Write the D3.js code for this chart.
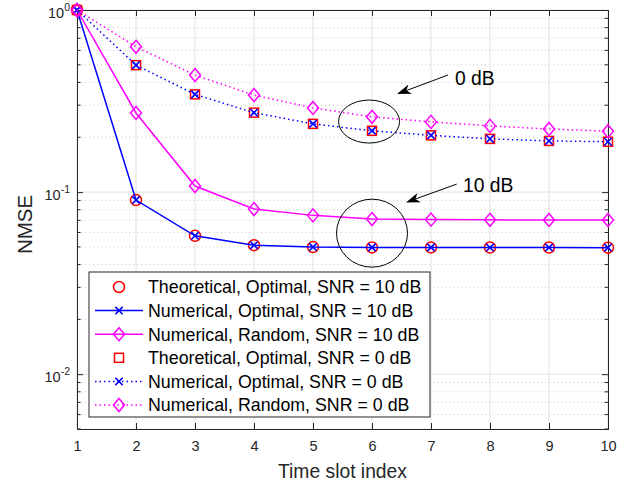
<!DOCTYPE html>
<html>
<head>
<meta charset="utf-8">
<script src="https://cdn.jsdelivr.net/npm/d3@7"></script>
<style>
body{margin:0;background:#fff;}
svg{display:block;}
text{font-family:"Liberation Sans",Arial,Helvetica,sans-serif;}
</style>
</head>
<body>
<svg id="chart" width="634" height="487"></svg>
<script>
// ---- data ----
const slots = [1,2,3,4,5,6,7,8,9,10];
const theoOpt10 = [1, 0.0904, 0.0575, 0.0511, 0.0499, 0.0497, 0.0497, 0.0496, 0.0496, 0.0495];
const numOpt10  = [1, 0.0904, 0.0575, 0.0511, 0.0499, 0.0497, 0.0497, 0.0496, 0.0496, 0.0495];
const numRand10 = [1, 0.272, 0.108, 0.0807, 0.0745, 0.0711, 0.0706, 0.0704, 0.0703, 0.0703];
const theoOpt0  = [1, 0.498, 0.344, 0.273, 0.237, 0.217, 0.205, 0.196, 0.191, 0.189];
const numOpt0   = [1, 0.498, 0.344, 0.273, 0.237, 0.217, 0.205, 0.196, 0.191, 0.189];
const numRand0  = [1, 0.628, 0.439, 0.341, 0.290, 0.259, 0.243, 0.231, 0.222, 0.216];
const xTicks = [1,2,3,4,5,6,7,8,9,10];
const yTicks = [0.01, 0.1, 1];
const yTickExp = ["-2","-1","0"];
const legendLabels = [
  "Theoretical, Optimal, SNR = 10 dB",
  "Numerical, Optimal, SNR = 10 dB",
  "Numerical, Random, SNR = 10 dB",
  "Theoretical, Optimal, SNR = 0 dB",
  "Numerical, Optimal, SNR = 0 dB",
  "Numerical, Random, SNR = 0 dB"
];
const xLabel = "Time slot index";
const yLabel = "NMSE";

// ---- layout ----
const L = 77, R = 608, T = 10, B = 429;
const svg = d3.select("#chart");
const x = d3.scaleLinear().domain([1,10]).range([L,R]);
const y = d3.scaleLog().domain([0.005,1]).range([B,T]);
const axisColor = "#262626";

// grid
const g = svg.append("g");
// minor y grid
const minor = [];
[0.001,0.01,0.1].forEach(d=>{ for(let k=2;k<=9;k++){ const v=d*k; if(v>=0.005 && v<1) minor.push(v);} });
g.selectAll(".mg").data(minor).enter().append("line")
  .attr("x1",L).attr("x2",R).attr("y1",d=>y(d)).attr("y2",d=>y(d))
  .attr("stroke","#c8c8c8").attr("stroke-width",1).attr("stroke-dasharray","1,3");
g.selectAll(".gx").data(xTicks).enter().append("line")
  .attr("x1",d=>x(d)).attr("x2",d=>x(d)).attr("y1",T).attr("y2",B)
  .attr("stroke","#e1e1e1").attr("stroke-width",1);
g.selectAll(".gy").data(yTicks).enter().append("line")
  .attr("x1",L).attr("x2",R).attr("y1",d=>y(d)).attr("y2",d=>y(d))
  .attr("stroke","#e1e1e1").attr("stroke-width",1);

// axes
const xAxis = d3.axisBottom(x).tickValues(xTicks).tickSize(-6).tickPadding(12).tickFormat(d3.format("d"));
const xa = svg.append("g").attr("transform",`translate(0,${B})`).call(xAxis);
xa.select(".domain").attr("stroke",axisColor);
xa.selectAll(".tick line").attr("stroke",axisColor);
xa.selectAll(".tick text").attr("fill",axisColor).attr("font-size",14.5);

const xTop = d3.axisTop(x).tickValues(xTicks).tickSize(-6).tickFormat("");
const xt = svg.append("g").attr("transform",`translate(0,${T})`).call(xTop);
xt.selectAll("path,line").attr("stroke",axisColor);

const yAxis = d3.axisLeft(y).tickValues(yTicks).tickSize(-6).tickFormat("");
const ya = svg.append("g").attr("transform",`translate(${L},0)`).call(yAxis);
ya.selectAll("path,line").attr("stroke",axisColor);
const yAxisR = d3.axisRight(y).tickValues(yTicks).tickSize(-6).tickFormat("");
const yr = svg.append("g").attr("transform",`translate(${R},0)`).call(yAxisR);
yr.selectAll("path,line").attr("stroke",axisColor);
// minor ticks
[L,R].forEach((px,i)=>{
  const dir = i===0?1:-1;
  svg.append("g").selectAll("line").data(minor).enter().append("line")
    .attr("x1",px).attr("x2",px+dir*3.5).attr("y1",d=>y(d)).attr("y2",d=>y(d))
    .attr("stroke",axisColor).attr("stroke-width",1);
});
// y tick labels (10^n)
const ytl = svg.append("g");
yTicks.forEach((v,i)=>{
  const t = ytl.append("text").attr("x",L-7).attr("y",y(v)+8).attr("text-anchor","end")
    .attr("fill",axisColor).attr("font-size",14.5);
  t.append("tspan").text("10");
  t.append("tspan").attr("dy",-7).attr("font-size",10.5).text(yTickExp[i]);
});

// axis labels
svg.append("text").attr("x",(L+R)/2).attr("y",478).attr("text-anchor","middle")
  .attr("font-size",19.3).attr("fill",axisColor).text(xLabel);
svg.append("text").attr("transform",`translate(32,${(T+B)/2+5}) rotate(-90)`)
  .attr("text-anchor","middle").attr("font-size",20.5).attr("fill",axisColor).text(yLabel);

// ---- series ----
const series = [
  {vals:theoOpt10, color:"#ff0000", line:false, dash:null, marker:"circle"},
  {vals:numOpt10,  color:"#0000ff", line:true, dash:null, marker:"x"},
  {vals:numRand10, color:"#ff00ff", line:true, dash:null, marker:"diamond"},
  {vals:theoOpt0,  color:"#ff0000", line:false, dash:null, marker:"square"},
  {vals:numOpt0,   color:"#0000ff", line:true, dash:"1.5,3", marker:"x"},
  {vals:numRand0,  color:"#ff00ff", line:true, dash:"1.5,3", marker:"diamond"}
];
function drawMarker(sel, type, cx, cy, color){
  if(type==="circle"){
    sel.append("circle").attr("cx",cx).attr("cy",cy).attr("r",5.5)
      .attr("fill","none").attr("stroke",color).attr("stroke-width",1.5);
  } else if(type==="square"){
    sel.append("rect").attr("x",cx-4.5).attr("y",cy-4.5).attr("width",9).attr("height",9)
      .attr("fill","none").attr("stroke",color).attr("stroke-width",1.5);
  } else if(type==="x"){
    const s=3.7;
    sel.append("path").attr("d",`M${cx-s},${cy-s}L${cx+s},${cy+s}M${cx-s},${cy+s}L${cx+s},${cy-s}`)
      .attr("stroke",color).attr("stroke-width",1.6).attr("fill","none");
  } else if(type==="diamond"){
    const w=5.5,h=6.5;
    sel.append("path").attr("d",`M${cx},${cy-h}L${cx+w},${cy}L${cx},${cy+h}L${cx-w},${cy}Z`)
      .attr("stroke",color).attr("stroke-width",1.5).attr("fill","none");
  }
}
const line = d3.line().x((d,i)=>x(slots[i])).y(d=>y(d));
const sg = svg.append("g");
series.forEach(s=>{
  if(s.line){
    sg.append("path").attr("d",line(s.vals)).attr("fill","none").attr("stroke",s.color)
      .attr("stroke-width",1.5).attr("stroke-dasharray",s.dash);
  }
  s.vals.forEach((v,i)=>drawMarker(sg,s.marker,x(slots[i]),y(v),s.color));
});

// ---- annotations ----
const ann = svg.append("g");
const ellipses = [{cx:5.95, cy:0.244, rx:30.5, ry:21.5},{cx:6.0, cy:0.0595, rx:35.5, ry:34}];
ellipses.forEach(e=>ann.append("ellipse").attr("cx",x(e.cx)).attr("cy",y(e.cy))
  .attr("rx",e.rx).attr("ry",e.ry).attr("fill","none").attr("stroke","#000").attr("stroke-width",1));
const arrows = [
  {x1:7.288,y1:0.4395,x2:6.424,y2:0.3455},
  {x1:7.436,y1:0.1106,x2:6.576,y2:0.0878}
];
arrows.forEach(a=>{
  const X1=x(a.x1),Y1=y(a.y1),X2=x(a.x2),Y2=y(a.y2);
  const ang=Math.atan2(Y2-Y1,X2-X1);
  const len=14, hw=5, notch=10;
  const ux=Math.cos(ang), uy=Math.sin(ang), px=-uy, py=ux;
  const bx=X2-ux*len, by=Y2-uy*len;
  const nx=X2-ux*notch, ny=Y2-uy*notch;
  ann.append("line").attr("x1",X1).attr("y1",Y1).attr("x2",nx).attr("y2",ny)
    .attr("stroke","#000").attr("stroke-width",1);
  ann.append("path").attr("d",`M${X2},${Y2}L${bx+px*hw},${by+py*hw}L${nx},${ny}L${bx-px*hw},${by-py*hw}Z`)
    .attr("fill","#000");
});
const labels = [{x:7.407,y:0.387,t:"0 dB"},{x:7.542,y:0.1004,t:"10 dB"}];
labels.forEach(l=>ann.append("text").attr("x",x(l.x)).attr("y",y(l.y)).attr("font-size",19.3)
  .attr("fill","#000").text(l.t));

// ---- legend ----
const lg = svg.append("g");
const lx=89, ly=272, lw=341, lh=145;
lg.append("rect").attr("x",lx).attr("y",ly).attr("width",lw).attr("height",lh)
  .attr("fill","#fff").attr("stroke","#262626").attr("stroke-width",1);
series.forEach((s,i)=>{
  const cy = ly+15+i*23.6;
  if(s.line){
    lg.append("line").attr("x1",lx+6).attr("x2",lx+54).attr("y1",cy).attr("y2",cy)
      .attr("stroke",s.color).attr("stroke-width",1.5).attr("stroke-dasharray",s.dash);
  }
  drawMarker(lg,s.marker,lx+30,cy,s.color);
  lg.append("text").attr("x",lx+59).attr("y",cy+6.3).attr("font-size",17.8).attr("fill","#000")
    .text(legendLabels[i]);
});
</script>
</body>
</html>
